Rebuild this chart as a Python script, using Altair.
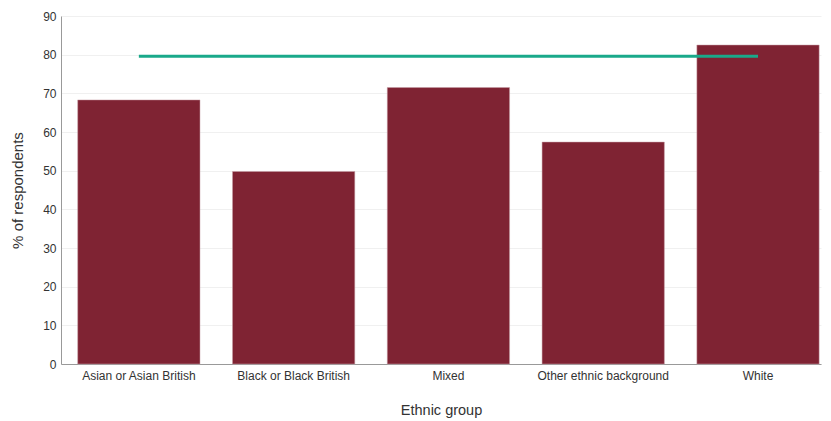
import altair as alt
import pandas as pd

categories = ["Asian or Asian British", "Black or Black British", "Mixed",
              "Other ethnic background", "White"]
values = [68.3, 49.8, 71.5, 57.4, 82.5]
average = [79.6, 79.6, 79.6, 79.6, 79.6]

df = pd.DataFrame({"group": categories, "pct": values, "avg": average})

xscale = alt.Scale(paddingInner=0.21, paddingOuter=0.06, align=0.9)
xenc = alt.X("group:N", sort=categories, scale=xscale,
             axis=alt.Axis(title="Ethnic group", labelAngle=0, labelFontSize=12,
                           labelColor="#333333", titleFontSize=14.5, titleColor="#333333",
                           titleFontWeight="normal", labelPadding=6, titlePadding=22,
                           ticks=False, domainColor="#999999", labelFont="Liberation Sans",
                           titleFont="Liberation Sans"))

bars = alt.Chart(df).mark_bar(color="#7f2333", stroke="#c9a0a8", strokeWidth=0.5).encode(
    x=xenc,
    y=alt.Y("pct:Q", scale=alt.Scale(domain=[0, 90], nice=False),
            axis=alt.Axis(title="% of respondents", values=list(range(0, 91, 10)),
                          labelOverlap=False, tickCount=10,
                          labelFontSize=12, labelColor="#333333", titleFontSize=15,
                          titleColor="#333333", titleFontWeight="normal", ticks=False,
                          labelPadding=5, titlePadding=17, gridColor="#f0f0f0",
                          domainColor="#999999", labelFont="Liberation Sans",
                          titleFont="Liberation Sans")),
)

line = alt.Chart(df).mark_line(color="#1aa98a", strokeWidth=3).encode(
    x=alt.X("group:N", sort=categories, scale=xscale),
    y=alt.Y("avg:Q"),
)

chart = alt.layer(bars, line).properties(
    width=760, height=348,
    autosize=alt.AutoSizeParams(type="none"),
    padding={"left": 53, "top": 8, "right": 2, "bottom": 56},
).configure_view(stroke=None).configure_axisX(grid=False)

chart.save("out.html", embed_options={"renderer": "svg", "actions": False})
